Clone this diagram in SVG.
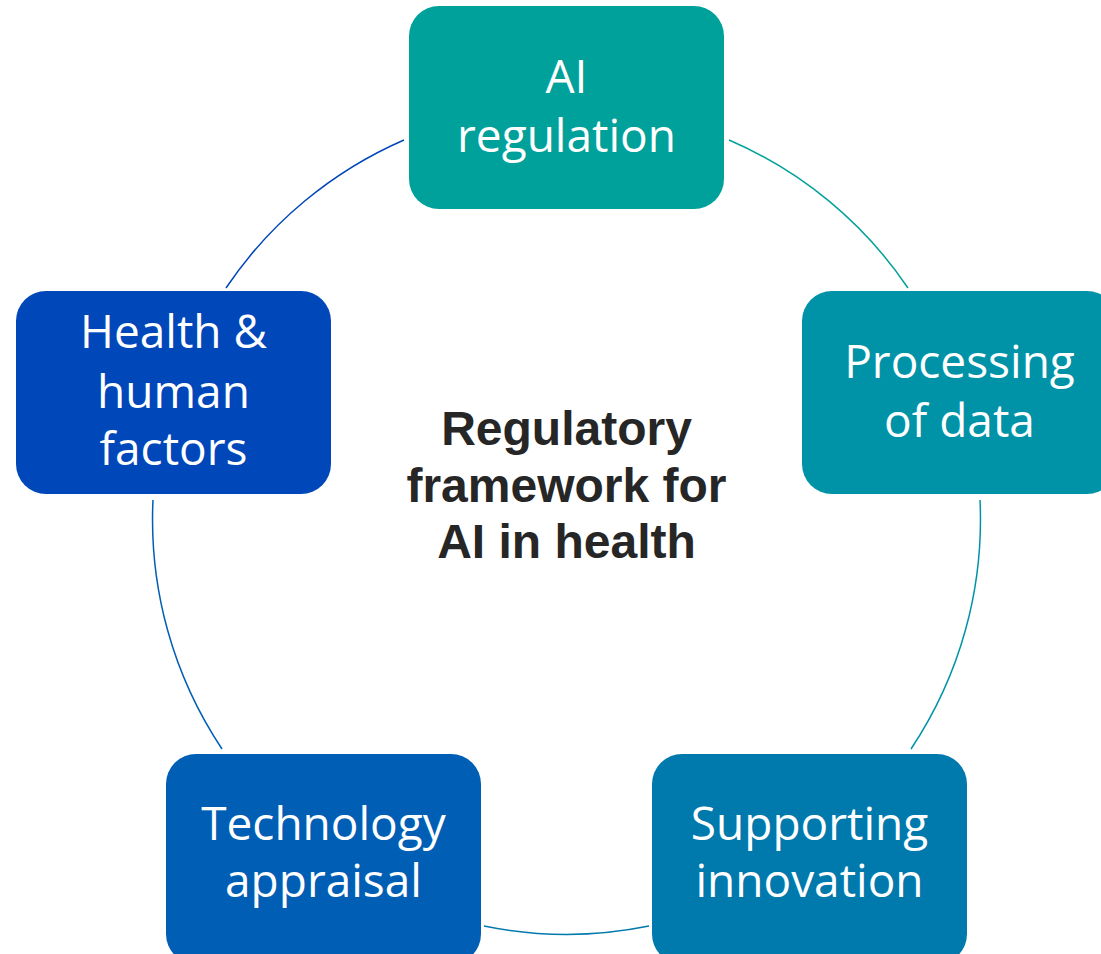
<svg xmlns="http://www.w3.org/2000/svg" width="1101" height="954" viewBox="0 0 1101 954">
<style>
.box{stroke:none}
.lbl{font-family:"Open Sans","Liberation Sans",sans-serif;font-size:46px;fill:#ffffff;text-anchor:middle}
.arc{fill:none;stroke-width:1.5}
.center{font-family:"Liberation Sans",Arial,sans-serif;font-weight:bold;font-size:48px;fill:#262626;text-anchor:middle}
</style>
<rect width="1101" height="954" fill="#ffffff"/>
<g id="connectors">
<path class="arc" stroke="#00A19A" d="M729,140 A413.5,413.5 0 0 1 908,288"/>
<path class="arc" stroke="#0093A8" d="M980,500 A413.5,413.5 0 0 1 911,749"/>
<path class="arc" stroke="#0079AD" d="M649,926 A413.5,413.5 0 0 1 484,926"/>
<path class="arc" stroke="#005EB4" d="M222,749 A413.5,413.5 0 0 1 153,500"/>
<path class="arc" stroke="#0047BA" d="M226,288 A413.5,413.5 0 0 1 404,140"/>
</g>
<g id="node-ai-regulation">
<rect class="box" x="409" y="6" width="315" height="203" rx="30" fill="#00A19A"/>
<text class="lbl" x="566.5" y="93">AI</text>
<text class="lbl" x="566.5" y="152">regulation</text>
</g>
<g id="node-processing">
<rect class="box" x="802" y="291" width="315" height="203" rx="30" fill="#0093A8"/>
<text class="lbl" x="959.5" y="378">Processing</text>
<text class="lbl" x="959.5" y="437">of data</text>
</g>
<g id="node-supporting">
<rect class="box" x="652" y="754" width="315" height="210" rx="30" fill="#0079AD"/>
<text class="lbl" x="809.5" y="840">Supporting</text>
<text class="lbl" x="809.5" y="897">innovation</text>
</g>
<g id="node-technology">
<rect class="box" x="166" y="754" width="315" height="210" rx="30" fill="#005EB4"/>
<text class="lbl" x="323.5" y="840">Technology</text>
<text class="lbl" x="323.5" y="897">appraisal</text>
</g>
<g id="node-health">
<rect class="box" x="16" y="291" width="315" height="203" rx="30" fill="#0047BA"/>
<text class="lbl" x="173.5" y="348">Health &amp;</text>
<text class="lbl" x="173.5" y="408">human</text>
<text class="lbl" x="173.5" y="465">factors</text>
</g>
<g id="center-title">
<text class="center" x="566.5" y="445">Regulatory</text>
<text class="center" x="566.5" y="502">framework for</text>
<text class="center" x="566.5" y="558">AI in health</text>
</g>
</svg>
